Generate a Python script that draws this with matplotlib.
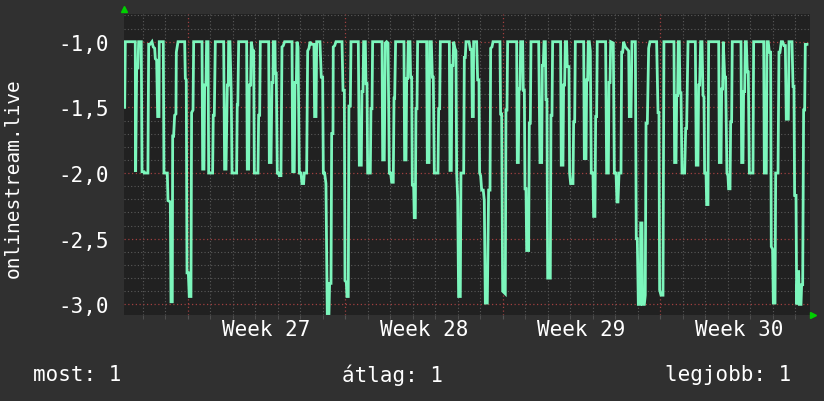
import matplotlib.pyplot as plt
from matplotlib.ticker import MultipleLocator, FuncFormatter

# hours from start of week 27 (Monday 00:00)
hours = [
    -67.2, -66.5, -55.9, -55.5, -54.4, -53.0, -52.3, -49.5, -48.7, -46.6, -46.3, -42.4, -41.6, -40.2,
    -38.1, -36.7, -35.2, -34.5, -33.1, -32.0, -30.6, -30.3, -26.0, -25.3, -21.7, -21.0, -18.5, -17.8,
    -16.4, -16.0, -15.0, -13.9, -12.5, -12.1, -10.3, -3.2, -2.5, -1.5, -0.7, 0.7, 1.7, 3.5, 4.2, 5.7,
    6.4, 15.3, 16.0, 17.4, 18.1, 19.5, 20.2, 21.7, 22.4, 26.6, 27.3, 28.4, 29.5, 38.4, 39.4, 40.9,
    42.3, 43.3, 43.7, 45.1, 46.5, 47.3, 52.2, 52.9, 53.5, 54.4,
    62.9, 63.6, 65.0, 65.7, 67.2, 67.9, 69.3, 70.4, 71.1, 75.0, 75.7, 76.8, 77.5, 86.4, 87.1, 88.9,
    89.9, 91.0, 91.3, 93.1, 93.5, 94.5, 95.6, 97.0, 97.7, 99.5, 100.6, 102.0, 103.4, 111.3, 112.0,
    113.7, 114.5, 115.9, 116.6, 117.7, 119.1, 120.9, 121.9, 123.7, 124.4, 126.9, 128.0, 129.4, 130.5,
    131.9, 134.7, 135.4, 136.9, 137.6, 141.1, 142.5, 144.0, 144.7, 146.1, 147.5, 148.9, 150.7, 151.4,
    152.9, 153.6, 155.0, 155.3, 156.8, 158.2, 164.6, 165.7, 167.1, 167.8, 169.2, 169.9, 171.3, 172.0,
    173.5, 174.2,
    182.0, 183.1, 185.2, 185.9, 187.0, 187.7, 189.5, 190.2, 191.3, 192.0, 194.8, 195.5, 196.6, 197.3,
    207.3, 208.0, 209.7, 210.8, 212.2, 213.7, 215.1, 216.5, 217.6, 219.3, 220.1, 220.8, 221.8, 230.7,
    231.4, 232.9, 233.6, 234.6, 235.3, 237.1, 237.8, 238.9, 239.6, 241.0, 241.7, 242.8, 243.5, 244.6,
    245.3, 254.9, 255.6, 257.4, 258.1, 259.9, 261.0, 262.0, 263.1, 267.0, 267.7, 268.8, 269.5, 279.1,
    279.8, 281.2, 281.9, 283.0, 283.7, 285.1, 286.2, 286.9, 288.0, 289.0, 290.8, 291.5, 294.4, 295.1,
    296.1,
    296.9, 300.1, 301.5, 302.9, 303.6, 304.7, 305.0, 308.2, 309.3, 310.7, 311.4, 312.5, 313.6, 315.3,
    316.4, 317.5, 319.6, 321.0, 322.5, 323.2, 324.6, 325.7, 333.1, 333.8, 334.9, 336.0, 338.8, 339.5,
    340.6, 341.3, 350.9, 351.6, 352.7, 353.4, 354.5, 355.2, 357.3, 358.0, 359.1, 359.8, 360.9, 361.6,
    363.7, 364.4, 365.5, 366.2, 374.4, 375.8, 377.6, 378.3, 379.3, 380.1, 381.5, 382.2, 383.2, 384.0,
    386.8, 387.5, 388.6, 389.3, 397.8, 398.5, 400.3, 401.0, 402.1, 402.8, 404.2, 404.9, 406.7, 407.4,
    408.5, 411.0, 411.7, 412.8, 413.5,
    422.4, 423.1, 424.9, 425.6, 426.6, 427.3, 428.4, 429.5, 430.5, 432.3, 433.0, 434.4, 435.2, 436.2,
    436.9, 445.8, 446.9, 448.7, 449.4, 450.5, 451.2, 454.0, 455.1, 456.9, 457.9, 459.0, 460.1, 462.2,
    462.9, 464.0, 465.0, 466.8, 470.4, 471.1, 472.9, 473.9, 477.5, 478.5, 479.6, 480.7, 482.8, 483.2,
    484.6, 485.3, 487.1, 488.1, 488.9, 490.3, 491.7, 493.1, 500.2, 501.7, 502.7, 503.4, 504.9, 507.0,
    508.0, 518.7, 519.4, 520.9, 521.6, 522.6, 523.3, 524.4, 525.1, 526.2, 527.3, 530.1, 531.2, 532.2,
    533.7,
    541.5, 542.5, 544.3, 545.0, 546.1, 547.2, 548.6, 549.7, 550.7, 551.4, 552.9, 553.6, 555.0, 555.7,
    566.4, 567.1, 568.9, 569.6, 570.6, 571.3, 572.8, 573.8, 575.2, 576.3, 577.0, 578.5, 579.2, 580.2,
    580.9, 590.2, 590.9, 592.3, 593.0, 594.1, 594.8, 595.9, 596.9, 598.0, 599.1, 603.0, 603.7, 614.4,
    615.1, 617.2, 617.9, 619.3, 620.4, 621.8, 622.5, 623.9, 624.7, 626.5, 627.2, 629.7, 630.7, 631.8,
    633.2, 634.6, 636.1, 637.5, 638.5, 640.7, 641.4, 644.6, 645.7, 646.7, 647.4, 648.9, 649.6, 650.6,
    651.7, 652.4, 654.2, 654.9, 656.0, 657.0, 658.1, 658.8, 660.6,
]

values = [
    -1.50, -1.0, -1.0, -1.99, -1.20, -1.20, -1.0, -1.0, -1.99, -1.99, -2.00, -2.00, -1.02, -1.02,
    -1.0, -1.04, -1.05, -1.13, -1.14, -1.57, -1.57, -1.0, -1.0, -2.0, -2.0, -2.21, -2.22, -2.98,
    -2.98, -1.72, -1.72, -1.56, -1.55, -1.08, -1.0, -1.0, -1.28, -1.29, -2.76, -2.76, -2.94, -2.94, -1.54, -1.52,
    -1.0, -1.0, -1.97, -1.97, -1.33, -1.33, -1.0, -1.0, -2.0, -2.0, -1.56, -1.56, -1.0, -1.0, -1.97, -1.97,
    -1.33, -1.33, -1.0, -1.0, -1.40, -2.0, -2.0, -1.48, -1.48, -1.0,
    -1.0, -1.97, -1.97, -1.33, -1.33, -1.0, -1.07, -1.07, -2.0, -2.0, -1.56, -1.56, -1.0, -1.0, -1.92, -1.92,
    -1.31, -1.31, -1.0, -1.0, -1.24, -1.24, -2.0, -2.0, -2.02, -2.02, -1.04, -1.03, -1.0, -1.0, -1.99,
    -1.99, -1.31, -1.31, -1.0, -1.04, -2.0, -2.0, -2.08, -2.08, -2.0, -2.0, -1.07, -1.05, -1.0,
    -1.02, -1.02, -1.57, -1.57, -1.0, -1.0, -1.27, -1.27, -2.0, -2.0, -2.08, -3.07, -3.07, -2.84,
    -2.84, -1.70, -1.70, -1.04, -1.03, -1.0, -1.0, -1.37, -1.37, -2.82, -2.83, -2.94, -2.94, -1.49,
    -1.49, -1.0,
    -1.0, -1.94, -1.94, -1.38, -1.38, -1.0, -1.0, -1.32, -1.32, -2.0, -2.0, -1.51, -1.51, -1.0,
    -1.0, -1.90, -1.90, -1.01, -1.0, -1.01, -2.0, -2.0, -2.07, -2.07, -1.43, -1.43, -1.0, -1.0,
    -1.90, -1.90, -1.28, -1.28, -1.0, -1.0, -1.27, -1.27, -2.09, -2.09, -2.34, -2.34, -1.51, -1.51,
    -1.0, -1.0, -1.92, -1.92, -1.0, -1.0, -1.27, -1.27, -2.0, -2.0, -1.51, -1.51, -1.0, -1.0,
    -1.98, -1.98, -1.18, -1.18, -1.0, -1.05, -1.07, -1.99, -2.19, -2.94, -2.94, -2.0, -2.0, -1.12,
    -1.12,
    -1.0, -1.0, -1.06, -1.06, -1.57, -1.57, -1.0, -1.0, -1.29, -1.29, -2.0, -2.02, -2.13, -2.13,
    -2.21, -2.99, -2.99, -2.13, -2.13, -1.05, -1.04, -1.0, -1.0, -1.55, -1.55, -2.90, -2.92, -1.52,
    -1.52, -1.0, -1.0, -1.92, -1.92, -1.36, -1.36, -1.0, -1.0, -1.37, -1.37, -2.12, -2.12, -2.59,
    -2.59, -1.62, -1.62, -1.0, -1.0, -1.92, -1.92, -1.18, -1.18, -1.0, -1.0, -1.44, -1.44, -2.80,
    -2.80, -1.56, -1.56, -1.0, -1.0, -1.94, -1.94, -1.33, -1.33, -1.0, -1.0, -1.19, -1.19, -2.0,
    -2.08, -2.08, -1.61, -1.61, -1.0,
    -1.0, -1.89, -1.89, -1.29, -1.29, -1.0, -1.0, -1.07, -2.0, -2.0, -2.33, -2.33, -1.57, -1.57,
    -1.0, -1.0, -2.0, -2.0, -1.31, -1.31, -1.0, -1.01, -2.0, -2.0, -2.22, -2.22, -2.0, -2.0,
    -1.08, -1.08, -1.0, -1.04, -1.07, -1.57, -1.57, -1.0, -1.0, -2.50, -2.50, -3.0, -3.0, -2.38,
    -2.38, -3.0, -3.0, -2.93, -1.62, -1.62, -1.05, -1.0, -1.0, -1.54, -1.54, -2.89, -2.93, -2.93,
    -1.0, -1.0, -1.92, -1.92, -1.41, -1.41, -1.0, -1.0, -1.39, -1.39, -2.0, -2.0, -1.66, -1.66,
    -1.0,
    -1.0, -1.94, -1.94, -1.33, -1.33, -1.0, -1.0, -1.41, -1.42, -2.0, -2.0, -2.24, -2.24, -1.0,
    -1.0, -1.92, -1.92, -1.36, -1.36, -1.0, -1.27, -1.27, -2.0, -2.02, -2.12, -2.12, -1.61, -1.61,
    -1.0, -1.0, -1.92, -1.92, -1.38, -1.38, -1.0, -1.0, -1.23, -1.23, -2.0, -2.0, -1.0, -1.0,
    -2.0, -2.0, -1.0, -1.0, -1.08, -1.08, -2.56, -2.58, -2.99, -2.99, -2.0, -2.0, -1.08, -1.08,
    -1.0, -1.0, -1.03, -1.03, -1.59, -1.59, -1.0, -1.0, -1.34, -1.34, -2.17, -2.17, -3.0, -2.75,
    -2.75, -3.0, -3.0, -2.85, -2.85, -1.52, -1.52, -1.02, -1.02,
]

week_mid = [84, 252, 420, 588]
week_labels = ["Week 27", "Week 28", "Week 29", "Week 30"]
legend_texts = ["most: 1", "átlag: 1", "legjobb: 1"]

plt.rcParams['font.family'] = 'DejaVu Sans Mono'
fig = plt.figure(figsize=(8.24, 4.02), dpi=100, facecolor='#303030')
ax = fig.add_axes([0.1505, 0.2139, 0.8325, 0.7488], facecolor='#212121')

ax.plot(hours, values, color='#7cf6bc', lw=2.0, solid_joinstyle='miter')

ax.set_xlim(-67.9, 663.8)
ax.set_ylim(-3.081, -0.789)

ax.xaxis.set_major_locator(MultipleLocator(168))
ax.xaxis.set_minor_locator(MultipleLocator(24))
ax.yaxis.set_major_locator(MultipleLocator(0.5))
ax.yaxis.set_minor_locator(MultipleLocator(0.1))
ax.yaxis.set_major_formatter(FuncFormatter(lambda v, p: f"{v:.1f}".replace('.', ',')))
ax.set_xticklabels([])

ax.grid(which='minor', color='#5a5a5a', linestyle=(0, (1, 2)), linewidth=0.8)
ax.grid(which='major', color='#a04040', linestyle=(0, (1, 2)), linewidth=0.9)
ax.set_axisbelow(True)

ax.tick_params(axis='both', which='both', length=3, color='#555555', direction='out')
ax.tick_params(axis='y', which='both', length=0, labelsize=15, labelcolor='white', pad=11)
for s in ax.spines.values():
    s.set_visible(False)

for x, lab in zip(week_mid, week_labels):
    ax.text(x, -0.047, lab, transform=ax.get_xaxis_transform(), ha='center', va='center',
            color='white', fontsize=15)

fig.text(13 / 824, 1 - 178 / 402, "onlinestream.live", rotation=90, color='white',
         fontsize=14, ha='center', va='center')

# rrdtool-style axis arrows
ax.plot([0], [1.015], marker='^', color='#00d000', ms=5, transform=ax.transAxes, clip_on=False)
ax.plot([1.005], [0.0], marker='>', color='#00d000', ms=5, transform=ax.transAxes, clip_on=False)

fig.text(33 / 824, 0.067, legend_texts[0], color='white', fontsize=15, ha='left', va='center')
fig.text(393 / 824, 0.067, legend_texts[1], color='white', fontsize=15, ha='center', va='center')
fig.text(791 / 824, 0.067, legend_texts[2], color='white', fontsize=15, ha='right', va='center')

fig.savefig("out.png", dpi=100, facecolor=fig.get_facecolor())
